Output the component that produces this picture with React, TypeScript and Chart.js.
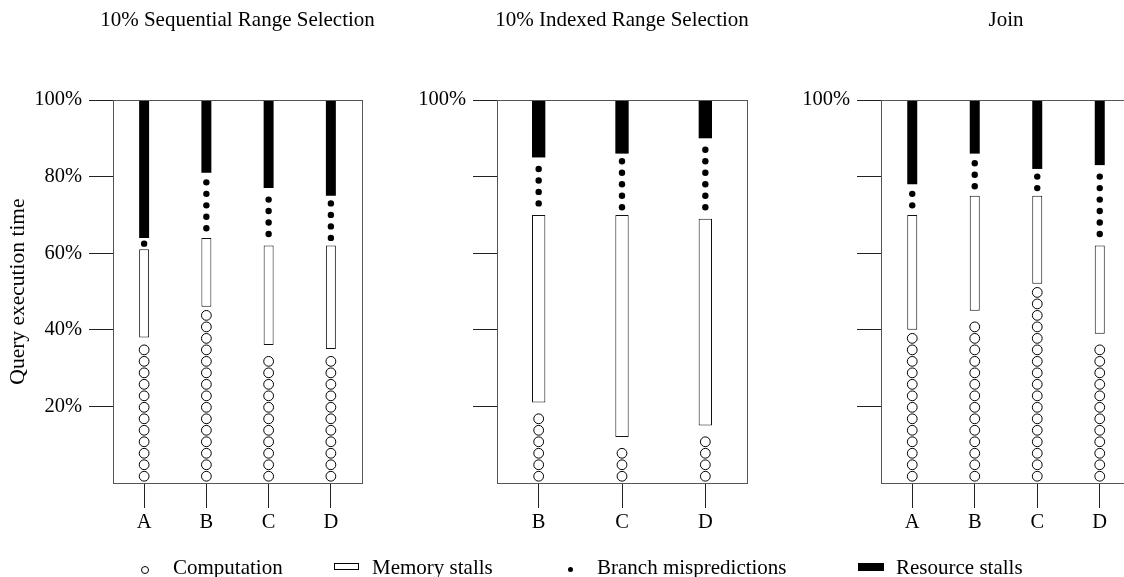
import React, { useEffect, useRef } from 'react';
import { Chart, registerables } from 'chart.js';

Chart.register(...registerables);

const FONT = "'Liberation Serif', 'Times New Roman', serif";

// ---- Data ----
const seqCategories = ['A', 'B', 'C', 'D'];
const seqComputation = [38, 46, 36, 35];
const seqMemory = [23, 18, 26, 27];
const seqBranch = [3, 17, 15, 13];
const seqResource = [36, 19, 23, 25];

const idxCategories = ['B', 'C', 'D'];
const idxComputation = [21, 12, 15];
const idxMemory = [49, 58, 54];
const idxBranch = [15, 16, 21];
const idxResource = [15, 14, 10];

const joinCategories = ['A', 'B', 'C', 'D'];
const joinComputation = [40, 45, 52, 39];
const joinMemory = [30, 30, 23, 23];
const joinBranch = [8, 11, 7, 21];
const joinResource = [22, 14, 18, 17];

const yTickValues = [20, 40, 60, 80, 100];
const panelTitles = ['10% Sequential Range Selection', '10% Indexed Range Selection', 'Join'];
const yAxisLabel = 'Query execution time';
const legendLabels = ['Computation', 'Memory stalls', 'Branch mispredictions', 'Resource stalls'];

const GLYPH_STEP = 3; // percent per circle / dot

const glyphPlugin = {
  id: 'glyphs',
  afterLayout(chart: any) {
    // widen the title box symmetrically so long titles are not squeezed
    const t = chart.titleBlock;
    if (t) {
      t.left -= 80;
      t.right += 80;
      t.width += 160;
    }
  },
  afterDatasetsDraw(chart: any) {
    const ctx = chart.ctx;
    const yScale = chart.scales.y;
    const unit = Math.abs(yScale.getPixelForValue(0) - yScale.getPixelForValue(GLYPH_STEP));
    chart.data.datasets.forEach((ds: any, di: number) => {
      const kind = ds.glyph;
      if (!kind) return;
      const meta = chart.getDatasetMeta(di);
      meta.data.forEach((el: any, i: number) => {
        const v = ds.data[i] as number;
        const { x, y, base } = el.getProps(['x', 'y', 'base'], true);
        ctx.save();
        if (kind === 'circle') {
          const n = Math.floor((v - 1) / GLYPH_STEP);
          ctx.lineWidth = 1;
          ctx.strokeStyle = '#000';
          ctx.fillStyle = '#fff';
          for (let k = 0; k < n; k++) {
            const cy = base - unit * (k + 0.5) - 1;
            ctx.beginPath();
            ctx.arc(x, cy, 4.9, 0, Math.PI * 2);
            ctx.fill();
            ctx.stroke();
          }
        } else if (kind === 'dot') {
          const n = Math.round(v / 3.4);
          const mid = (y + base) / 2;
          ctx.fillStyle = '#000';
          for (let k = 0; k < n; k++) {
            const cy = mid + (k - (n - 1) / 2) * unit;
            ctx.beginPath();
            ctx.arc(x, cy, 3.2, 0, Math.PI * 2);
            ctx.fill();
          }
        }
        ctx.restore();
      });
    });
  },
  afterDraw(chart: any) {
    const { left, right, top, bottom } = chart.chartArea;
    const ctx = chart.ctx;
    ctx.save();
    ctx.strokeStyle = '#555';
    ctx.lineWidth = 1;
    const l = Math.round(left) + 0.5;
    const t = Math.round(top) + 0.5;
    const r = Math.round(right) + 0.5;
    const b = Math.round(bottom) + 0.5;
    ctx.strokeRect(l, t, r - l, b - t);
    ctx.restore();
  },
};

type PanelProps = {
  title: string;
  categories: string[];
  comp: number[];
  mem: number[];
  branch: number[];
  res: number[];
  left: number;
  yAxisWidth: number;
  rightPad: number;
  yLabel?: string;
  showAllTickLabels: boolean;
};

function Panel(props: PanelProps) {
  const ref = useRef<HTMLCanvasElement | null>(null);
  useEffect(() => {
    if (!ref.current) return;
    const barOpts = { barPercentage: 0.16, categoryPercentage: 1 };
    const chart = new Chart(ref.current, {
      type: 'bar',
      data: {
        labels: props.categories,
        datasets: [
          {
            label: legendLabels[0],
            data: props.comp,
            backgroundColor: 'rgba(0,0,0,0)',
            borderWidth: 0,
            glyph: 'circle',
            ...barOpts,
          } as any,
          {
            label: legendLabels[1],
            data: props.mem,
            backgroundColor: '#fff',
            borderColor: '#111',
            borderWidth: 1,
            borderSkipped: false,
            ...barOpts,
          },
          {
            label: legendLabels[2],
            data: props.branch,
            backgroundColor: 'rgba(0,0,0,0)',
            borderWidth: 0,
            glyph: 'dot',
            ...barOpts,
          } as any,
          {
            label: legendLabels[3],
            data: props.res,
            backgroundColor: '#000',
            borderWidth: 0,
            ...barOpts,
          },
        ],
      },
      options: {
        responsive: false,
        animation: false,
        devicePixelRatio: 1,
        layout: { padding: { left: props.yLabel ? 5 : 0, right: props.rightPad, top: 0, bottom: 0 } },
        plugins: {
          legend: { display: false },
          tooltip: { enabled: false },
          title: {
            display: true,
            text: props.title,
            fullSize: false,
            color: '#000',
            font: { family: FONT, size: 21, weight: 'normal' },
            padding: { top: 8, bottom: 66.8 },
          },
        },
        scales: {
          x: {
            stacked: true,
            offset: true,
            grid: { display: true, drawOnChartArea: false, drawTicks: true, tickLength: 25, tickColor: '#222', offset: false },
            border: { display: false },
            ticks: { color: '#000', font: { family: FONT, size: 20.5 }, padding: 2, maxRotation: 0 },
            afterFit: (s: any) => {
              s.height = 94;
            },
          },
          y: {
            stacked: true,
            min: 0,
            max: 100,
            ticks: {
              stepSize: 20,
              color: '#000',
              font: { family: FONT, size: 20.5 },
              padding: 7,
              callback: (v: any) => (props.showAllTickLabels || v === 100 ? `${v}%` : ''),
            },
            afterBuildTicks: (s: any) => {
              s.ticks = s.ticks.filter((t: any) => yTickValues.includes(t.value));
            },
            grid: { drawOnChartArea: false, tickLength: 24, tickColor: '#222' },
            border: { display: false },
            title: {
              display: !!props.yLabel,
              text: props.yLabel || '',
              color: '#000',
              font: { family: FONT, size: 21.5 },
              padding: 0,
            },
            afterFit: (s: any) => {
              s.width = props.yAxisWidth;
            },
          },
        },
      } as any,
      plugins: [glyphPlugin],
    });
    return () => chart.destroy();
  }, []);
  return (
    <canvas
      ref={ref}
      width={380}
      height={577}
      style={{ position: 'absolute', left: props.left, top: 0, width: 380, height: 577 }}
    />
  );
}

const legendText: React.CSSProperties = {
  position: 'absolute',
  top: 557,
  fontFamily: FONT,
  fontSize: 21,
  lineHeight: '21px',
  color: '#000',
  whiteSpace: 'nowrap',
};

export default function App() {
  return (
    <div
      style={{
        position: 'fixed',
        left: 0,
        top: 0,
        width: 1124,
        height: 577,
        overflow: 'hidden',
        background: '#fff',
      }}
    >
      <Panel
        title={panelTitles[0]}
        categories={seqCategories}
        comp={seqComputation}
        mem={seqMemory}
        branch={seqBranch}
        res={seqResource}
        left={0}
        yAxisWidth={108}
        rightPad={18}
        yLabel={yAxisLabel}
        showAllTickLabels={true}
      />
      <Panel
        title={panelTitles[1]}
        categories={idxCategories}
        comp={idxComputation}
        mem={idxMemory}
        branch={idxBranch}
        res={idxResource}
        left={380}
        yAxisWidth={117}
        rightPad={13}
        showAllTickLabels={false}
      />
      <Panel
        title={panelTitles[2]}
        categories={joinCategories}
        comp={joinComputation}
        mem={joinMemory}
        branch={joinBranch}
        res={joinResource}
        left={760}
        yAxisWidth={121}
        rightPad={9}
        showAllTickLabels={false}
      />
      {/* Legend */}
      <div style={{ position: 'absolute', left: 141, top: 566, width: 8, height: 8, boxSizing: 'border-box', border: '1px solid #000', borderRadius: '50%' }} />
      <div style={{ ...legendText, left: 173 }}>{legendLabels[0]}</div>
      <div style={{ position: 'absolute', left: 334, top: 563, width: 25, height: 7, boxSizing: 'border-box', border: '1px solid #000' }} />
      <div style={{ ...legendText, left: 372 }}>{legendLabels[1]}</div>
      <div style={{ position: 'absolute', left: 568, top: 567, width: 5, height: 5, background: '#000', borderRadius: '50%' }} />
      <div style={{ ...legendText, left: 597 }}>{legendLabels[2]}</div>
      <div style={{ position: 'absolute', left: 858, top: 563, width: 26, height: 8, background: '#000' }} />
      <div style={{ ...legendText, left: 896 }}>{legendLabels[3]}</div>
    </div>
  );
}
